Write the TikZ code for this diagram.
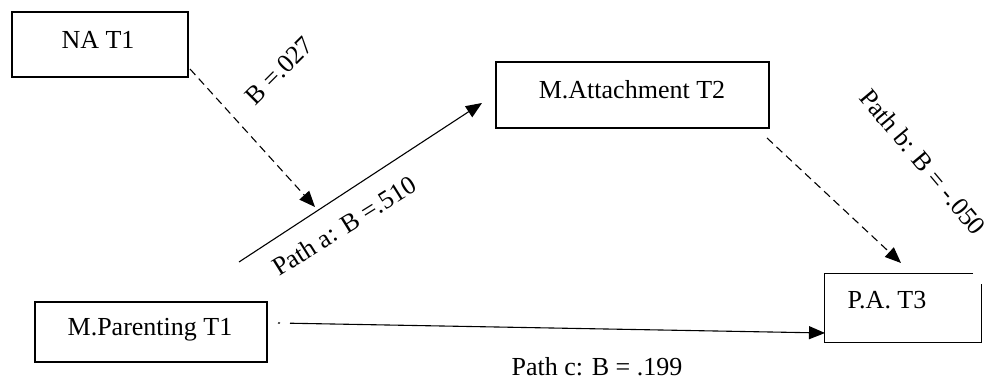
\documentclass[tikz,border=0pt]{standalone}
\usepackage{fontspec}
\setmainfont{Liberation Serif}
\usetikzlibrary{arrows.meta,calc}
\begin{document}
\begin{tikzpicture}[x=1pt,y=-1pt,
  varbox/.style={draw=black,line width=1.2pt,minimum width=#1,inner sep=0pt},
  boxtext/.style={font=\fontsize{26}{30}\selectfont,inner sep=0pt},
  pathlabel/.style={font=\fontsize{26}{30}\selectfont,inner sep=0pt},
  conn/.style={line width=1.1pt,-{Triangle[length=16pt,width=13pt]}},
  dashconn/.style={conn,dash pattern=on 8pt off 5pt}]
\useasboundingbox (0,0) rectangle (996,380);

% variable boxes
\node[varbox=176pt,minimum height=65pt] (na) at (100,44.5) {};
\node[boxtext] (naT) at (98,39.5) {NA T1};

\node[varbox=273pt,minimum height=66pt] (att) at (632.5,95) {};
\node[boxtext] (attT) at (632,89.5) {M.Attachment T2};

\node[varbox=232pt,minimum height=60pt] (par) at (151,332) {};
\node[boxtext] (parT) at (150,329.5) {M.Parenting T1};

% outcome box, outline drawn with an open top-right corner
\node[minimum width=156pt,minimum height=68pt,inner sep=0pt] (pa) at (903,308) {};
\draw[line width=1.2pt] ($(pa.north east)+(-8,0)$) -- (pa.north west)
  -- (pa.south west) -- (pa.south east) -- ($(pa.north east)+(0,10)$);
\node[boxtext] (paT) at (887,300.5) {P.A. T3};

% connector end points
\coordinate (naOut) at (190,69);
\coordinate (naIn) at (315,207);
\coordinate (aOut) at (239,262);
\coordinate (aIn) at (482,103);
\coordinate (bOut) at (767,138);
\coordinate (bIn) at (901,263);
\coordinate (cOut) at (278,323);
\coordinate (cIn) at (825,333);

% connectors
\draw[dashconn] (naOut) -- (naIn);
\draw[conn] (aOut) -- (aIn);
\draw[dashconn] (bOut) -- (bIn);
\draw[conn,dash pattern=on 2pt off 10pt on 700pt] (cOut) -- (cIn);

% path labels
\node[pathlabel,rotate=45] (lNA) at (279,71) {B =.027};
\node[pathlabel,rotate=32] (lA) at (344,226) {Path a: B =.510};
\node[pathlabel,rotate=-50] (lB) at (923,162) {Path b: B = -.050};
\node[pathlabel] (lC) at (597,367) {Path c: B = .199};
\end{tikzpicture}
\end{document}
